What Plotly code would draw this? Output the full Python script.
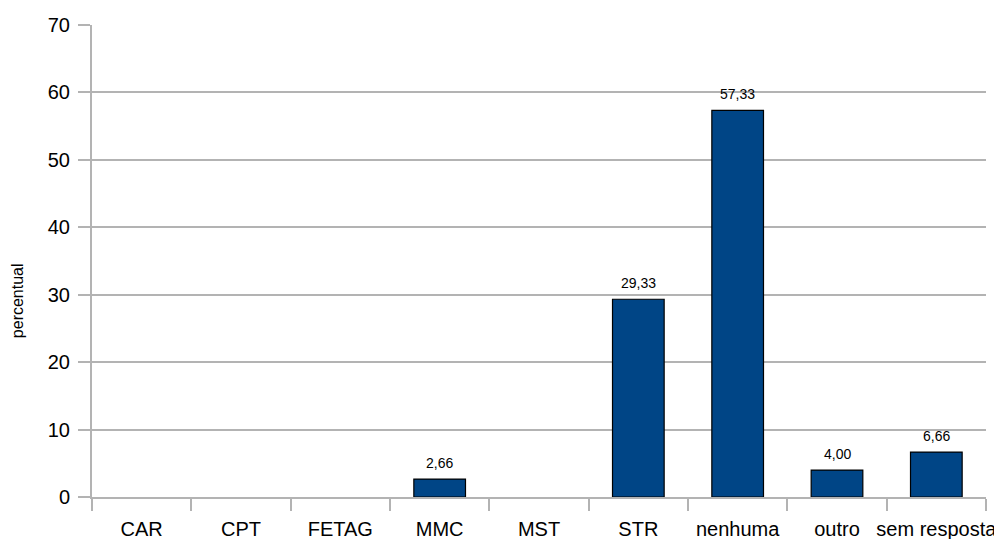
import plotly.graph_objects as go

categories = ["CAR", "CPT", "FETAG", "MMC", "MST", "STR", "nenhuma", "outro", "sem resposta"]
values = [0, 0, 0, 2.66, 0, 29.33, 57.33, 4.00, 6.66]
y_ticks = [0, 10, 20, 30, 40, 50, 60, 70]
y_title = "percentual"

FONT = "Liberation Sans, Arial, sans-serif"
GRID = "#b3b3b3"

fig = go.Figure()
fig.add_trace(go.Bar(
    x=categories, y=values,
    marker=dict(color="#004586",
                line=dict(color="#000000", width=[1.2 if v > 0 else 0 for v in values])),
    hoverinfo="x+y",
))

for c, v in zip(categories, values):
    if v > 0:
        fig.add_annotation(
            x=c, y=v, xref="x", yref="y",
            text=f"{v:.2f}".replace(".", ","),
            showarrow=False, yanchor="bottom", yshift=6,
            font=dict(family=FONT, size=14, color="#000000"),
        )

fig.add_annotation(
    xref="paper", yref="paper",
    x=-0.0839, y=0.417,
    text=y_title, textangle=-90, showarrow=False,
    xanchor="center", yanchor="middle",
    font=dict(family=FONT, size=16, color="#000000"),
)

fig.update_layout(
    width=994, height=531,
    margin=dict(l=84, r=16, t=17, b=42, autoexpand=False),
    paper_bgcolor="white", plot_bgcolor="white",
    bargap=0.48,
    showlegend=False,
    font=dict(family=FONT, color="#000000"),
)
fig.update_xaxes(
    type="category", range=[-0.5, 8.5], automargin=False,
    showline=True, linecolor=GRID, linewidth=2,
    ticks="outside", tickson="boundaries", ticklen=12, tickcolor=GRID, tickwidth=2,
    tickfont=dict(family=FONT, size=20, color="#000000"),
    tickangle=0,
    showgrid=False, ticklabelstandoff=13,
)
fig.update_yaxes(
    range=[0, 70], tickvals=y_ticks, automargin=False,
    showline=True, linecolor=GRID, linewidth=2,
    ticks="outside", ticklen=12, tickcolor=GRID, tickwidth=2,
    showgrid=True, gridcolor=GRID, gridwidth=2,
    zeroline=False,
    tickfont=dict(family=FONT, size=20, color="#000000"),
    ticklabelstandoff=4,
)

fig.write_html("out.html")
